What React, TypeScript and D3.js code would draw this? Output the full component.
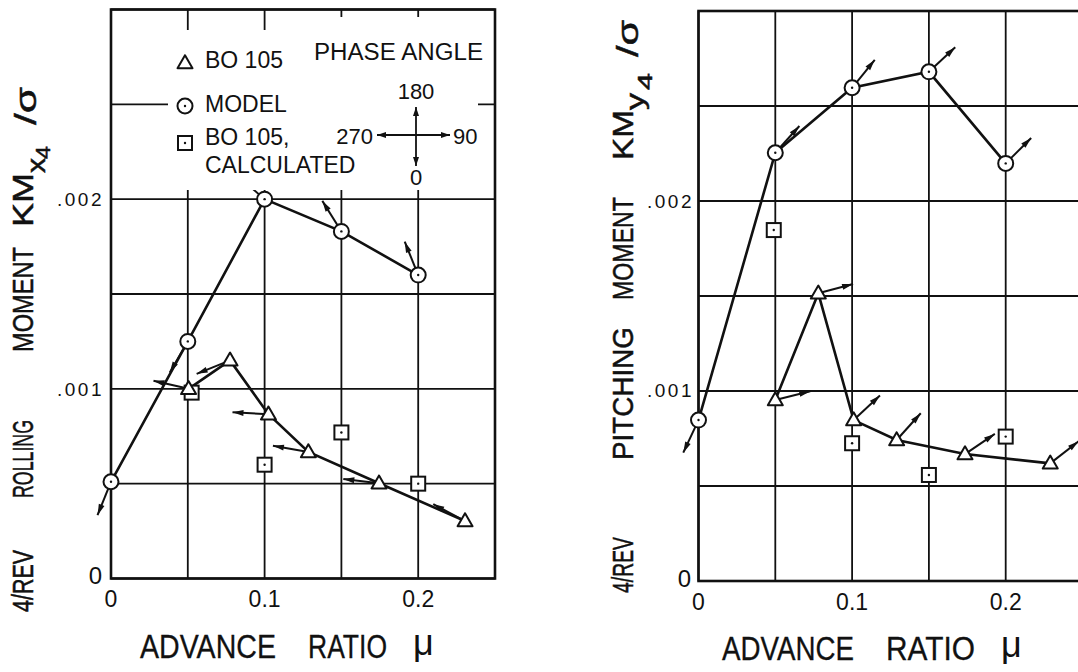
import React from "react";
import * as d3 from "d3";

const W = 1078;
const H = 672;

// Grid and tick values shared by both panels
const muGrid = [0, 0.05, 0.1, 0.15, 0.2, 0.25];
const muTicks = [0, 0.1, 0.2];
const muTickLabels = ["0", "0.1", "0.2"];
const momentGrid = [0, 0.0005, 0.001, 0.0015, 0.002, 0.0025, 0.003];
const momentTicks = [0, 0.001, 0.002];
const momentTickLabels = ["0", ".001", ".002"];

// Rolling moment (4/rev)
const muModel = [0, 0.05, 0.1, 0.15, 0.2];
const rollModel = [0.00051, 0.00125, 0.002, 0.00183, 0.0016];
const rollModelPhase = [338, 330, 229, 212, 202];
const muBoRoll = [0.0505, 0.0775, 0.1025, 0.1285, 0.1745, 0.2305];
const rollBo = [0.001, 0.00115, 0.000866, 0.000667, 0.000502, 0.000303];
const rollBoPhase = [257, 292, 267, 260, 263, 242];
const muCalcRoll = [0.0525, 0.1, 0.15, 0.2];
const rollCalc = [0.00098, 0.0006, 0.00077, 0.0005];

// Pitching moment (4/rev)
const pitchModel = [0.000847, 0.002254, 0.002596, 0.00268, 0.002198];
const pitchModelPhase = [335, 138, 141, 133, 135];
const muBoPitch = [0.05, 0.078, 0.101, 0.129, 0.1735, 0.229];
const pitchBo = [0.000953, 0.001514, 0.000847, 0.000742, 0.000668, 0.000619];
const pitchBoPhase = [104, 105, 133, 138, 124, 128];
const muCalcPitch = [0.049, 0.1, 0.15, 0.2];
const pitchCalc = [0.001847, 0.000725, 0.000558, 0.00076];

const FONT = "'Liberation Sans', Arial, Helvetica, sans-serif";
const INK = "#111";
const ARROW_LEN = 36;

type PanelDef = {
  xr: [number, number];
  yr: [number, number];
  model: number[];
  modelPhase: number[];
  boMu: number[];
  bo: number[];
  boPhase: number[];
  calcMu: number[];
  calc: number[];
  yLabelEnd: number;
  yLabelZeroEnd: number;
  xLabelBase: number;
  yLabelShift: number[];
};

function PhaseArrow({ x, y, phase }: { x: number; y: number; phase: number }) {
  const r = (phase * Math.PI) / 180;
  const dx = Math.sin(r);
  const dy = Math.cos(r);
  const x2 = x + dx * ARROW_LEN;
  const y2 = y + dy * ARROW_LEN;
  const hl = 11;
  const hw = 3;
  const bx = x2 - dx * hl;
  const by = y2 - dy * hl;
  const px = -dy;
  const py = dx;
  return (
    <g>
      <line x1={x} y1={y} x2={x2} y2={y2} stroke={INK} strokeWidth={2} />
      <polygon
        points={`${x2},${y2} ${bx + px * hw},${by + py * hw} ${bx - px * hw},${by - py * hw}`}
        fill={INK}
      />
    </g>
  );
}

function Circle({ x, y }: { x: number; y: number }) {
  return (
    <g>
      <circle cx={x} cy={y} r={7.5} fill="#fff" stroke={INK} strokeWidth={2} />
      <circle cx={x} cy={y} r={1.2} fill={INK} />
    </g>
  );
}

function Triangle({ x, y }: { x: number; y: number }) {
  const s = 15;
  const h = 13;
  return (
    <polygon
      points={`${x},${y - h * 0.6} ${x - s / 2},${y + h * 0.4} ${x + s / 2},${y + h * 0.4}`}
      fill="#fff"
      stroke={INK}
      strokeWidth={2}
      strokeLinejoin="round"
    />
  );
}

function Square({ x, y }: { x: number; y: number }) {
  const s = 14;
  return (
    <g>
      <rect x={x - s / 2} y={y - s / 2} width={s} height={s} fill="#fff" stroke={INK} strokeWidth={2} />
      <circle cx={x} cy={y} r={1.2} fill={INK} />
    </g>
  );
}

function VText({ x, y0, y1, size, text }: { x: number; y0: number; y1: number; size: number; text: string }) {
  return (
    <text
      transform={`translate(${x},${y0}) rotate(-90)`}
      fontSize={size}
      fontFamily={FONT}
      fill={INK}
      stroke={INK}
      strokeWidth={0.5}
      textLength={y0 - y1}
      lengthAdjust="spacingAndGlyphs"
    >
      {text}
    </text>
  );
}

function HText({ x0, x1, y, size, text }: { x0: number; x1: number; y: number; size: number; text: string }) {
  return (
    <text
      x={x0}
      y={y}
      fontSize={size}
      fontFamily={FONT}
      fill={INK}
      stroke={INK}
      strokeWidth={0.3}
      textLength={x1 - x0}
      lengthAdjust="spacingAndGlyphs"
    >
      {text}
    </text>
  );
}

function Panel({ def }: { def: PanelDef }) {
  const x = d3.scaleLinear().domain([0, 0.25]).range(def.xr);
  const y = d3.scaleLinear().domain([0, 0.003]).range(def.yr);
  const line = d3
    .line<[number, number]>()
    .x((d) => x(d[0]))
    .y((d) => y(d[1]));

  const modelPts: [number, number][] = muModel.map((m, i) => [m, def.model[i]]);
  const boPts: [number, number][] = def.boMu.map((m, i) => [m, def.bo[i]]);

  return (
    <g>
      {/* grid */}
      {muGrid.map((m) => (
        <line key={"vx" + m} x1={x(m)} x2={x(m)} y1={y(0)} y2={y(0.003)} stroke={INK} strokeWidth={1.8} />
      ))}
      {momentGrid.map((v) => (
        <line key={"hy" + v} x1={x(0)} x2={x(0.25)} y1={y(v)} y2={y(v)} stroke={INK} strokeWidth={1.8} />
      ))}
      <rect
        x={x(0)}
        y={y(0.003)}
        width={x(0.25) - x(0)}
        height={y(0) - y(0.003)}
        fill="none"
        stroke={INK}
        strokeWidth={2.6}
      />
      {/* tick labels */}
      {muTicks.map((m, i) => (
        <text
          key={"xt" + m}
          x={x(m)}
          y={def.xLabelBase}
          textAnchor="middle"
          fontSize={23}
          fontFamily={FONT}
          fill={INK}
        >
          {muTickLabels[i]}
        </text>
      ))}
      {momentTicks.map((v, i) =>
        v === 0 ? (
          <text
            key={"yt" + v}
            x={def.yLabelZeroEnd}
            y={y(v) + def.yLabelShift[i]}
            textAnchor="end"
            fontSize={24}
            fontFamily={FONT}
            fill={INK}
          >
            {momentTickLabels[i]}
          </text>
        ) : (
          <text
            key={"yt" + v}
            x={def.yLabelEnd}
            y={y(v) + def.yLabelShift[i]}
            textAnchor="end"
            fontSize={19}
            letterSpacing={2.5}
            fontFamily={FONT}
            fill={INK}
          >
            {momentTickLabels[i]}
          </text>
        )
      )}
      {/* phase arrows */}
      {modelPts.map((p, i) => (
        <PhaseArrow key={"ma" + i} x={x(p[0])} y={y(p[1])} phase={def.modelPhase[i]} />
      ))}
      {boPts.map((p, i) => (
        <PhaseArrow key={"ba" + i} x={x(p[0])} y={y(p[1])} phase={def.boPhase[i]} />
      ))}
      {/* connecting lines */}
      <path d={line(modelPts) || ""} fill="none" stroke={INK} strokeWidth={2.6} />
      <path d={line(boPts) || ""} fill="none" stroke={INK} strokeWidth={2.6} />
      {/* markers */}
      {def.calcMu.map((m, i) => (
        <Square key={"sq" + i} x={x(m)} y={y(def.calc[i])} />
      ))}
      {boPts.map((p, i) => (
        <Triangle key={"tr" + i} x={x(p[0])} y={y(p[1])} />
      ))}
      {modelPts.map((p, i) => (
        <Circle key={"ci" + i} x={x(p[0])} y={y(p[1])} />
      ))}
    </g>
  );
}

const leftDef: PanelDef = {
  xr: [111, 495],
  yr: [578.5, 9.5],
  model: rollModel,
  modelPhase: rollModelPhase,
  boMu: muBoRoll,
  bo: rollBo,
  boPhase: rollBoPhase,
  calcMu: muCalcRoll,
  calc: rollCalc,
  yLabelEnd: 104,
  yLabelZeroEnd: 102,
  xLabelBase: 607,
  yLabelShift: [5, 7, 7],
};

const rightDef: PanelDef = {
  xr: [698.5, 1082.5],
  yr: [581, 11],
  model: pitchModel,
  modelPhase: pitchModelPhase,
  boMu: muBoPitch,
  bo: pitchBo,
  boPhase: pitchBoPhase,
  calcMu: muCalcPitch,
  calc: pitchCalc,
  yLabelEnd: 694,
  yLabelZeroEnd: 691,
  xLabelBase: 610,
  yLabelShift: [6, 6, 7],
};

function Legend() {
  const cx = 416;
  const cy = 135;
  const head = (x1: number, y1: number, x2: number, y2: number) => {
    const len = Math.hypot(x2 - x1, y2 - y1);
    const ux = (x2 - x1) / len;
    const uy = (y2 - y1) / len;
    const bx = x2 - ux * 9;
    const by = y2 - uy * 9;
    return `${x2},${y2} ${bx - uy * 3},${by + ux * 3} ${bx + uy * 3},${by - ux * 3}`;
  };
  return (
    <g fontFamily={FONT} fill={INK}>
      <polygon points="168,30 300,30 300,17 478,17 478,190 168,190" fill="#fff" />
      <Triangle x={185} y={63} />
      <text x={205} y={68} fontSize={23}>BO 105</text>
      <Circle x={185} y={106} />
      <text x={205} y={112} fontSize={23}>MODEL</text>
      <Square x={185} y={143} />
      <text x={205} y={145} fontSize={23}>BO 105,</text>
      <text x={205} y={173} fontSize={23}>CALCULATED</text>

      <text x={314} y={60} fontSize={23} textLength={169} lengthAdjust="spacingAndGlyphs">PHASE ANGLE</text>
      <text x={cx} y={99} fontSize={22} textAnchor="middle">180</text>
      <text x={373} y={144} fontSize={22} textAnchor="end">270</text>
      <text x={453} y={144} fontSize={22}>90</text>
      <text x={cx} y={185} fontSize={22} textAnchor="middle">0</text>
      <line x1={377} y1={cy} x2={450} y2={cy} stroke={INK} strokeWidth={1.8} />
      <line x1={cx} y1={107} x2={cx} y2={166} stroke={INK} strokeWidth={1.8} />
      <polygon points={head(cx, cy, 377, cy)} />
      <polygon points={head(cx, cy, 450, cy)} />
      <polygon points={head(cx, cy, cx, 107)} />
      <polygon points={head(cx, cy, cx, 166)} />
    </g>
  );
}

function Titles() {
  return (
    <g>
      {/* left vertical title */}
      <VText x={33} y0={612} y1={550} size={30} text="4/REV" />
      <VText x={33} y0={498} y1={420} size={30} text="ROLLING" />
      <VText x={33} y0={352} y1={247} size={30} text="MOMENT" />
      <VText x={33} y0={227} y1={173} size={30} text="KM" />
      <VText x={45} y0={173} y1={158} size={26} text="x" />
      <VText x={50} y0={159} y1={146} size={20} text="4" />
      <VText x={36} y0={125} y1={87} size={30} text="/σ" />

      {/* right vertical title */}
      <VText x={633} y0={593} y1={537} size={30} text="4/REV" />
      <VText x={633} y0={460} y1={327} size={30} text="PITCHING" />
      <VText x={633} y0={300} y1={197} size={30} text="MOMENT" />
      <VText x={633} y0={160} y1={110} size={30} text="KM" />
      <VText x={644} y0={110} y1={93} size={26} text="y" />
      <VText x={652} y0={90} y1={73} size={20} text="4" />
      <VText x={638} y0={57} y1={20} size={30} text="/σ" />

      {/* horizontal titles */}
      <HText x0={140} x1={276} y={658} size={34} text="ADVANCE" />
      <HText x0={308} x1={387} y={658} size={34} text="RATIO" />
      <text x={413} y={655} fontSize={36} fontFamily={FONT} fill={INK}>μ</text>
      <HText x0={722} x1={854} y={660} size={34} text="ADVANCE" />
      <HText x0={886} x1={975} y={660} size={34} text="RATIO" />
      <text x={1001} y={657} fontSize={36} fontFamily={FONT} fill={INK}>μ</text>
    </g>
  );
}

export default function App() {
  return (
    <svg
      width={W}
      height={H}
      viewBox={`0 0 ${W} ${H}`}
      style={{ position: "absolute", left: 0, top: 0, background: "#fff" }}
    >
      <rect x={0} y={0} width={W} height={H} fill="#fff" />
      <Panel def={leftDef} />
      <Legend />
      <Panel def={rightDef} />
      <Titles />
    </svg>
  );
}
